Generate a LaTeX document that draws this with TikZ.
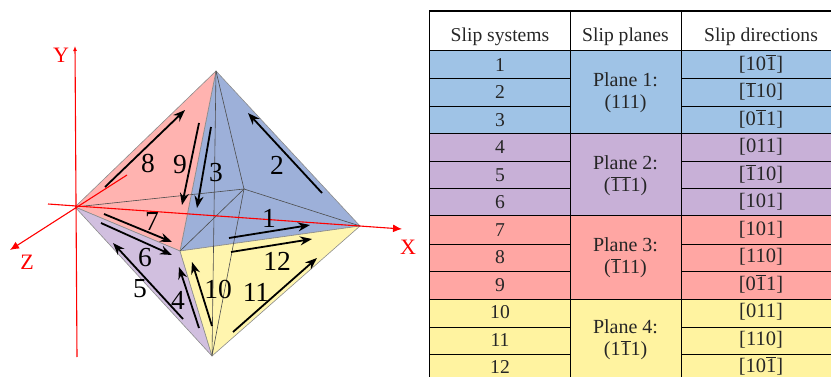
\documentclass[tikz,border=0pt]{standalone}
\usepackage{fontspec}
\setmainfont{Liberation Serif}
\usetikzlibrary{arrows.meta}
\definecolor{faceblue}{HTML}{9DB0D9}
\definecolor{facepink}{HTML}{FFB3B0}
\definecolor{facepurple}{HTML}{D1BFDF}
\definecolor{faceyellow}{HTML}{FFF5AE}
\definecolor{rowblue}{HTML}{9FC3E6}
\definecolor{rowpurple}{HTML}{C8B0D7}
\definecolor{rowred}{HTML}{FFA6A3}
\definecolor{rowyellow}{HTML}{FFF3A0}
\newcommand{\bbar}[1]{$\overline{\mbox{#1}}$}
\begin{document}
\begin{tikzpicture}[
  x=1pt,y=-1pt,
  face/.style={draw=black!45,line width=.6pt,line join=round},
  edge/.style={draw=black!70,line width=.6pt},
  axis/.style={red,line width=1.1pt,-{Latex[length=9pt,width=8pt]}},
  axisname/.style={red,font=\fontsize{22}{22}\selectfont},
  slip/.style={black,line width=1.8pt,-{Stealth[length=12pt,width=9pt]}},
  slipnum/.style={font=\fontsize{27.5}{27.5}\selectfont,inner sep=0pt},
  cell/.style={font=\fontsize{19.6}{19.6}\selectfont,inner sep=0pt,text=black!85},
  dircell/.style={font=\fontsize{20.5}{20.5}\selectfont,inner sep=0pt,anchor=base,text=black!85},
  planecell/.style={font=\fontsize{20}{22}\selectfont,inner sep=0pt,align=center,text=black!85}
]
  \useasboundingbox (0,0) rectangle (831,377);

  % octahedron
  \coordinate (top) at (216,71);
  \coordinate (left) at (75,207);
  \coordinate (right) at (360,226);
  \coordinate (bottom) at (212,356);
  \coordinate (front) at (180,251);
  \coordinate (back) at (244,189);
  \filldraw[face,fill=faceblue] (top) -- (right) -- (front) -- cycle;
  \filldraw[face,fill=facepink] (top) -- (left) -- (front) -- cycle;
  \filldraw[face,fill=facepurple] (left) -- (front) -- (bottom) -- cycle;
  \filldraw[face,fill=faceyellow] (front) -- (right) -- (bottom) -- cycle;
  \draw[edge] (top) -- (back) -- (right);
  \draw[edge] (left) -- (back) -- (front);
  \draw[edge] (back) -- (bottom) -- (top);

  % axes
  \coordinate (xtail) at (48,204);
  \coordinate (xhead) at (402,229);
  \coordinate (ytail) at (77,357);
  \coordinate (yhead) at (75,46);
  \coordinate (ztail) at (127,175);
  \coordinate (zhead) at (10,250);
  \draw[axis] (xtail) -- (xhead);
  \draw[axis,-{Latex[length=5pt,width=4pt]}] (ytail) -- (yhead);
  \draw[axis] (ztail) -- (zhead);
  \node[axisname] (xname) at (408,247) {X};
  \node[axisname] (yname) at (61,55) {Y};
  \node[axisname] (zname) at (27,262) {Z};

  % slip arrows
  \foreach \n/\ax/\ay/\bx/\by/\lx/\ly in {
    1/229/238/310/225/269/218, 2/322/193/248/113/277/165,
    3/211/127/197/208/216/173, 4/199/328/179/267/178/300,
    5/183/319/113/243/140/289, 6/101/223/172/255/145/258,
    7/104/214/172/242/152/221, 8/105/187/185/110/148/163,
    9/199/123/182/205/180/165, 10/212/326/192/262/218/289,
    11/233/332/317/258/256/292, 12/231/252/312/239/277/261} {
    \coordinate (start\n) at (\ax,\ay);
    \coordinate (end\n) at (\bx,\by);
    \draw[slip] (start\n) -- (end\n);
    \node[slipnum] (num\n) at (\lx,\ly) {\n};
  }

  % table bands
  \fill[rowblue] (429,51) rectangle (831,133.5);
  \fill[rowpurple] (429,133.5) rectangle (831,216);
  \fill[rowred] (429,216) rectangle (831,299);
  \fill[rowyellow] (429,299) rectangle (831,377);

  % table lines
  \foreach \y in {78,106,161,188,244,271,327,354} {
    \draw[line width=.9pt] (429,\y) -- (570,\y);
    \draw[line width=.9pt] (681,\y) -- (831,\y);
  }
  \foreach \y in {51,133.5,216,299}
    \draw[line width=1pt] (429,\y) -- (831,\y);
  \draw[line width=1.2pt] (429,11) -- (831,11);
  \foreach \x in {429,570,681}
    \draw[line width=1pt] (\x,11) -- (\x,377);

  % table text
  \node[cell] (headsys) at (500,37) {Slip systems};
  \node[cell] (headplane) at (625.5,37) {Slip planes};
  \node[cell] (headdir) at (761,37) {Slip directions};
  \foreach \i in {1,...,12}
    \node[cell] (sys\i) at (500,{65+27.5*(\i-1)}) {\i};
  \foreach \i/\d in {1/{[10\bbar{1}]},2/{[\bbar{1}10]},3/{[0\bbar{1}1]},
    4/{[011]},5/{[\bbar{1}10]},6/{[101]},
    7/{[101]},8/{[110]},9/{[0\bbar{1}1]},
    10/{[011]},11/{[110]},12/{[10\bbar{1}]}}
    \node[dircell] (dir\i) at (761,{70.5+27.45*(\i-1)}) {\d};
  \node[planecell] (plane1) at (625.5,93) {Plane 1:\\(111)};
  \node[planecell] (plane2) at (625.5,176) {Plane 2:\\(\bbar{1}\bbar{1}1)};
  \node[planecell] (plane3) at (625.5,258) {Plane 3:\\(\bbar{1}11)};
  \node[planecell] (plane4) at (625.5,340) {Plane 4:\\(1\bbar{1}1)};
\end{tikzpicture}
\end{document}
